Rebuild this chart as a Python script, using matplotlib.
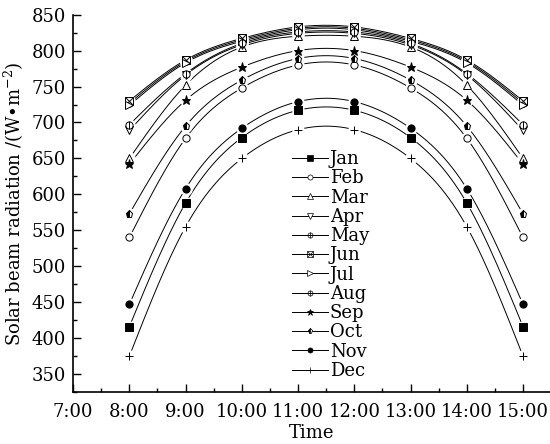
import numpy as np
import matplotlib
matplotlib.use("Agg")
import matplotlib.pyplot as plt
from matplotlib.ticker import MultipleLocator

plt.rcParams['font.family'] = ['DejaVu Serif']
plt.rcParams['mathtext.fontset'] = 'dejavuserif'

# hours of the day (8:00 .. 15:00)
hours = [8, 9, 10, 11, 12, 13, 14, 15]
tick_hours = [7, 8, 9, 10, 11, 12, 13, 14, 15]
tick_labels = ["7:00", "8:00", "9:00", "10:00", "11:00", "12:00", "13:00", "14:00", "15:00"]

months = ["Jan", "Feb", "Mar", "Apr", "May", "Jun",
          "Jul", "Aug", "Sep", "Oct", "Nov", "Dec"]

jan = [416, 588, 679, 717, 717, 679, 588, 416]
feb = [540, 678, 748, 780, 780, 748, 678, 540]
mar = [650, 752, 805, 820, 820, 805, 752, 650]
apr = [689, 766, 808, 824, 824, 808, 766, 689]
may = [727, 785, 815, 831, 831, 815, 785, 727]
jun = [730, 787, 817, 833, 833, 817, 787, 730]
jul = [724, 783, 813, 829, 829, 813, 783, 724]
aug = [697, 768, 810, 826, 826, 810, 768, 697]
sep = [642, 731, 777, 800, 800, 777, 731, 642]
octo = [573, 695, 759, 789, 789, 759, 695, 573]
nov = [447, 608, 692, 729, 729, 692, 608, 447]
dec = [375, 555, 650, 690, 690, 650, 555, 375]
series = [jan, feb, mar, apr, may, jun, jul, aug, sep, octo, nov, dec]

# marker styles: list of (marker, facecolor, fillstyle) layers
styles = [
    [('s', 'k', 'full')],
    [('o', 'w', 'full')],
    [('^', 'w', 'full')],
    [('v', 'w', 'full')],
    [('o', 'w', 'full'), ('+', 'k', 'full')],
    [('s', 'w', 'full'), ('x', 'k', 'full')],
    [('>', 'w', 'full')],
    [('o', 'w', 'full'), ('|', 'k', 'full')],
    [('*', 'k', 'full')],
    [('p', 'k', 'left')],
    [('o', 'k', 'full')],
    [('+', 'k', 'full')],
]


def natural_spline(x, y, xs):
    x = np.asarray(x, float)
    y = np.asarray(y, float)
    n = len(x)
    h = np.diff(x)
    A = np.zeros((n, n))
    b = np.zeros(n)
    A[0, 0] = A[-1, -1] = 1
    for i in range(1, n - 1):
        A[i, i - 1] = h[i - 1]
        A[i, i] = 2 * (h[i - 1] + h[i])
        A[i, i + 1] = h[i]
        b[i] = 6 * ((y[i + 1] - y[i]) / h[i] - (y[i] - y[i - 1]) / h[i - 1])
    M = np.linalg.solve(A, b)
    idx = np.clip(np.searchsorted(x, xs) - 1, 0, n - 2)
    x0, x1 = x[idx], x[idx + 1]
    hh = x1 - x0
    t0, t1 = x1 - xs, xs - x0
    return (M[idx] * t0 ** 3 / (6 * hh) + M[idx + 1] * t1 ** 3 / (6 * hh)
            + (y[idx] / hh - M[idx] * hh / 6) * t0
            + (y[idx + 1] / hh - M[idx + 1] * hh / 6) * t1)


fig = plt.figure(figsize=(5.5, 4.44), dpi=100)
ax = fig.add_axes([0.133, 0.117, 0.867, 0.85])

xs = np.linspace(hours[0], hours[-1], 300)
handles = []
for vals, st, name in zip(series, styles, months):
    ax.plot(xs, natural_spline(hours, vals, xs), color='k', lw=0.7, zorder=1)
    # white pad to leave a gap between line and symbol
    ax.plot(hours, vals, ls='none', marker='o', ms=8, mfc='w', mec='w', zorder=2)
    layers = []
    for mk, fc, fs in st:
        ms = 6.5 if mk == '*' else 5.2
        ax.plot(hours, vals, ls='none', marker=mk, ms=ms, mfc=fc, mec='k',
                mew=0.7, fillstyle=fs, markerfacecoloralt='w', zorder=3)
        h, = ax.plot([], [], ls='-', color='k', lw=0.7, marker=mk, ms=ms * 0.7,
                     mfc=fc, mec='k', mew=0.5, fillstyle=fs, markerfacecoloralt='w')
        layers.append(h)
    handles.append(tuple(layers))

ax.legend(handles, months, loc='upper left', bbox_to_anchor=(0.44, 0.665),
          frameon=False, fontsize=13, handlelength=2.0, handletextpad=0.1,
          labelspacing=0.07, borderpad=0)

ax.set_xlim(7, 15.48)
ax.set_ylim(325, 850)
ax.set_xticks(tick_hours)
ax.set_xticklabels(tick_labels)
ax.set_yticks(np.arange(350, 851, 50))
ax.xaxis.set_minor_locator(MultipleLocator(0.5))
ax.yaxis.set_minor_locator(MultipleLocator(25))
ax.tick_params(which='both', direction='in', labelsize=13, width=1)
ax.tick_params(which='major', length=6)
ax.tick_params(which='minor', length=3)
ax.tick_params(axis='x', pad=8)
ax.tick_params(axis='y', pad=5)
ax.spines['top'].set_visible(False)
ax.spines['right'].set_visible(False)
ax.spines['left'].set_linewidth(1.2)
ax.spines['bottom'].set_linewidth(1.2)
ax.set_xlabel("Time", fontsize=13, labelpad=2)
ax.set_ylabel("Solar beam radiation /(W•m$^{-2}$)", fontsize=13, labelpad=4)

fig.savefig("out.png", dpi=100)
